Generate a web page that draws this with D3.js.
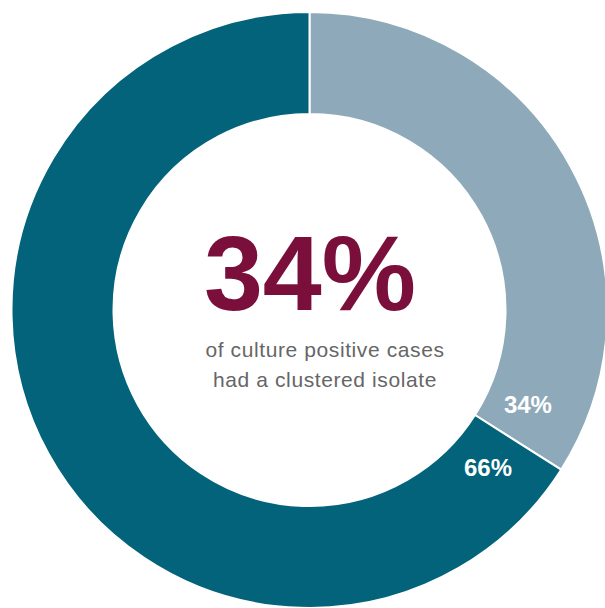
<!DOCTYPE html>
<html><head><meta charset="utf-8">
<script src="https://cdn.jsdelivr.net/npm/d3@7"></script>
<style>html,body{margin:0;padding:0;background:#fff;}</style>
</head><body>
<svg id="c" width="605" height="608"></svg>
<script>
const categories = ["Clustered isolate", "Not clustered"];
const values = [34, 66];
const sliceLabels = ["34%", "66%"];
const headline = "34%";
const subtitle = ["of culture positive cases", "had a clustered isolate"];
const colors = ["#8eaaba", "#02637a"];

const svg = d3.select("#c");
const cx = 309.5, cy = 310, outerR = 298, innerR = 196;
const g = svg.append("g").attr("transform", `translate(${cx},${cy})`);

const pie = d3.pie().sort(null).value(d => d)(values);
const arc = d3.arc().innerRadius(innerR).outerRadius(outerR);
const color = d3.scaleOrdinal().domain(categories).range(colors);

g.selectAll("path.slice").data(pie).join("path")
  .attr("class", "slice")
  .attr("d", arc)
  .attr("fill", (d, i) => color(categories[i]))
  .attr("stroke", "#fff").attr("stroke-width", 2);

// labels near the boundary between slices
const off = 9 * Math.PI / 180;
const labR = 238;
g.selectAll("text.lab").data(pie).join("text")
  .attr("class", "lab")
  .each(function(d, i) {
    const a = i === 0 ? d.endAngle - off : d.startAngle + off;
    d3.select(this)
      .attr("x", labR * Math.sin(a))
      .attr("y", -labR * Math.cos(a))
      .attr("dy", "0.36em");
  })
  .attr("text-anchor", "middle")
  .attr("fill", "#fff")
  .attr("font-family", "Liberation Sans, Arial, sans-serif")
  .attr("font-weight", "bold")
  .attr("font-size", 24)
  .text((d, i) => sliceLabels[i]);

svg.append("text")
  .attr("x", 310).attr("y", 310)
  .attr("text-anchor", "middle")
  .attr("fill", "#7a0f3c")
  .attr("font-family", "Liberation Sans, Arial, sans-serif")
  .attr("font-weight", "bold")
  .attr("font-size", 106)
  .text(headline);

svg.selectAll("text.sub").data(subtitle).join("text")
  .attr("class", "sub")
  .attr("x", 325).attr("y", (d, i) => 357 + i * 30)
  .attr("text-anchor", "middle")
  .attr("fill", "#666")
  .attr("font-family", "Liberation Sans, Arial, sans-serif")
  .attr("font-size", 21)
  .attr("letter-spacing", 0.6)
  .text(d => d);
</script>
</body></html>
